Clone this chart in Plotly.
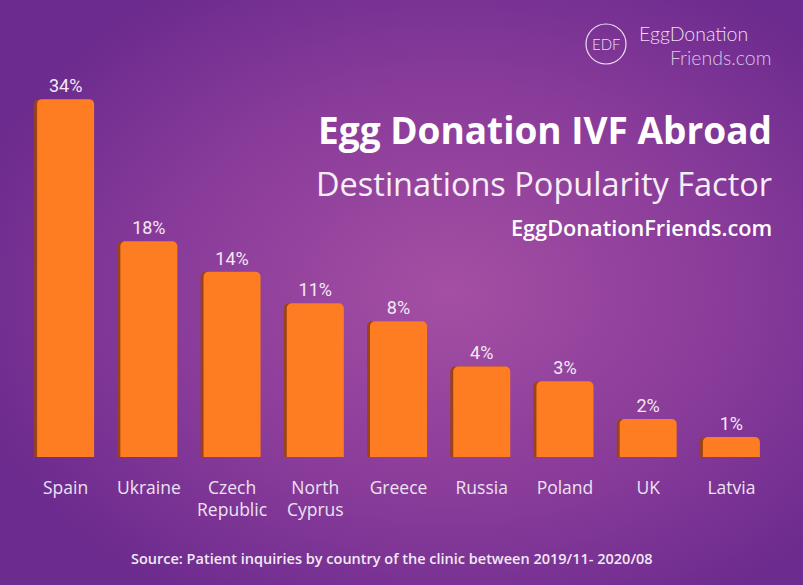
import base64
import plotly.graph_objects as go

# ---- data ----
countries = ["Spain", "Ukraine", "Czech<br>Republic", "North<br>Cyprus", "Greece",
             "Russia", "Poland", "UK", "Latvia"]
share_labels = ["34%", "18%", "14%", "11%", "8%", "4%", "3%", "2%", "1%"]
# bar heights as drawn in the infographic (not to scale), in percent-equivalent units
bar_heights = [34, 20.5, 17.6, 14.6, 12.9, 8.6, 7.2, 3.6, 1.9]

title_main = "Egg Donation IVF Abroad"
title_sub = "Destinations Popularity Factor"
site = "EggDonationFriends.com"
logo_top = "EggDonation"
logo_bottom = "Friends.com"
logo_mark = "EDF"
source = "Source: Patient inquiries by country of the clinic between 2019/11- 2020/08"

W, H = 803, 585
L, R, T, B = 24, 30, 36, 128
pw, ph = W - L - R, H - T - B


def px(x):
    return (x - L) / pw


def py(y):
    return (H - y - B) / ph


svg = f'''<svg xmlns="http://www.w3.org/2000/svg" width="{W}" height="{H}">
<defs><radialGradient id="g" cx="0.56" cy="0.50" r="0.62">
<stop offset="0" stop-color="#a44fa3"/><stop offset="0.55" stop-color="#8a3c9a"/>
<stop offset="1" stop-color="#6c2b8e"/></radialGradient></defs>
<rect width="100%" height="100%" fill="url(#g)"/></svg>'''
bg = "data:image/svg+xml;base64," + base64.b64encode(svg.encode()).decode()

bw = 0.685
fig = go.Figure()
# shadow on left edge
fig.add_trace(go.Bar(x=countries, y=bar_heights, width=bw, offset=-bw / 2 - 0.035,
                     marker=dict(color="#9a4316", line=dict(width=0)),
                     hoverinfo="skip", showlegend=False))
fig.add_trace(go.Bar(x=countries, y=bar_heights, width=bw, offset=-bw / 2,
                     marker=dict(color="#ff7d22", line=dict(width=0)),
                     text=share_labels, textposition="outside",
                     textfont=dict(family="Roboto", size=18, color="#f4e8f6"),
                     cliponaxis=False, showlegend=False))


def A(text, x, y, size, family="Open Sans", color="white", anchor="right", weight=None):
    f = dict(size=size, family=family, color=color)
    if weight:
        f["weight"] = weight
    return dict(text=text, x=px(x), y=py(y), xref="paper", yref="paper",
                xanchor=anchor, yanchor="middle", showarrow=False, font=f)


annotations = [
    A(f"<b>{title_main}</b>", 774, 129, 37),
    A(title_sub, 774, 183, 32.5, color="#f6eef8"),
    A(site, 774, 228, 21.7, weight=600),
    A(logo_top, 637, 34, 19.5, family="Lato", color="#ecdff2", anchor="left", weight=300),
    A(logo_bottom, 773, 57, 19.5, family="Lato", color="#d9c6e4", weight=300),
    A(logo_mark, 606, 44, 15, family="Lato", color="#ecdff2", anchor="center", weight=300),
    A(source, 392, 558, 14.5, color="#f2e9f5", anchor="center", weight=600),
]

shapes = [dict(type="circle", xref="paper", yref="paper",
               x0=px(586), x1=px(626), y0=py(64), y1=py(24),
               line=dict(color="#ecdff2", width=1.2))]

fig.update_layout(
    width=W, height=H, margin=dict(l=L, r=R, t=T, b=B),
    paper_bgcolor="#7a3293", plot_bgcolor="rgba(0,0,0,0)",
    barmode="overlay", barcornerradius=5, bargap=0.3,
    images=[dict(source=bg, xref="paper", yref="paper", x=-L / pw, y=1 + T / ph,
                 sizex=W / pw, sizey=H / ph, sizing="stretch", xanchor="left", yanchor="top",
                 layer="below")],
    xaxis=dict(type="category", range=[-0.5, 8.5], showgrid=False, zeroline=False, showline=False,
               ticks="", ticklabelstandoff=18,
               tickfont=dict(family="Open Sans", size=17.5, color="#ece2f2")),
    yaxis=dict(range=[0, 40], visible=False),
    annotations=annotations, shapes=shapes, showlegend=False,
)
fig.write_html("out.html", config={"displayModeBar": False},
               post_script="document.body.style.margin='0';document.body.style.overflow='hidden';")
